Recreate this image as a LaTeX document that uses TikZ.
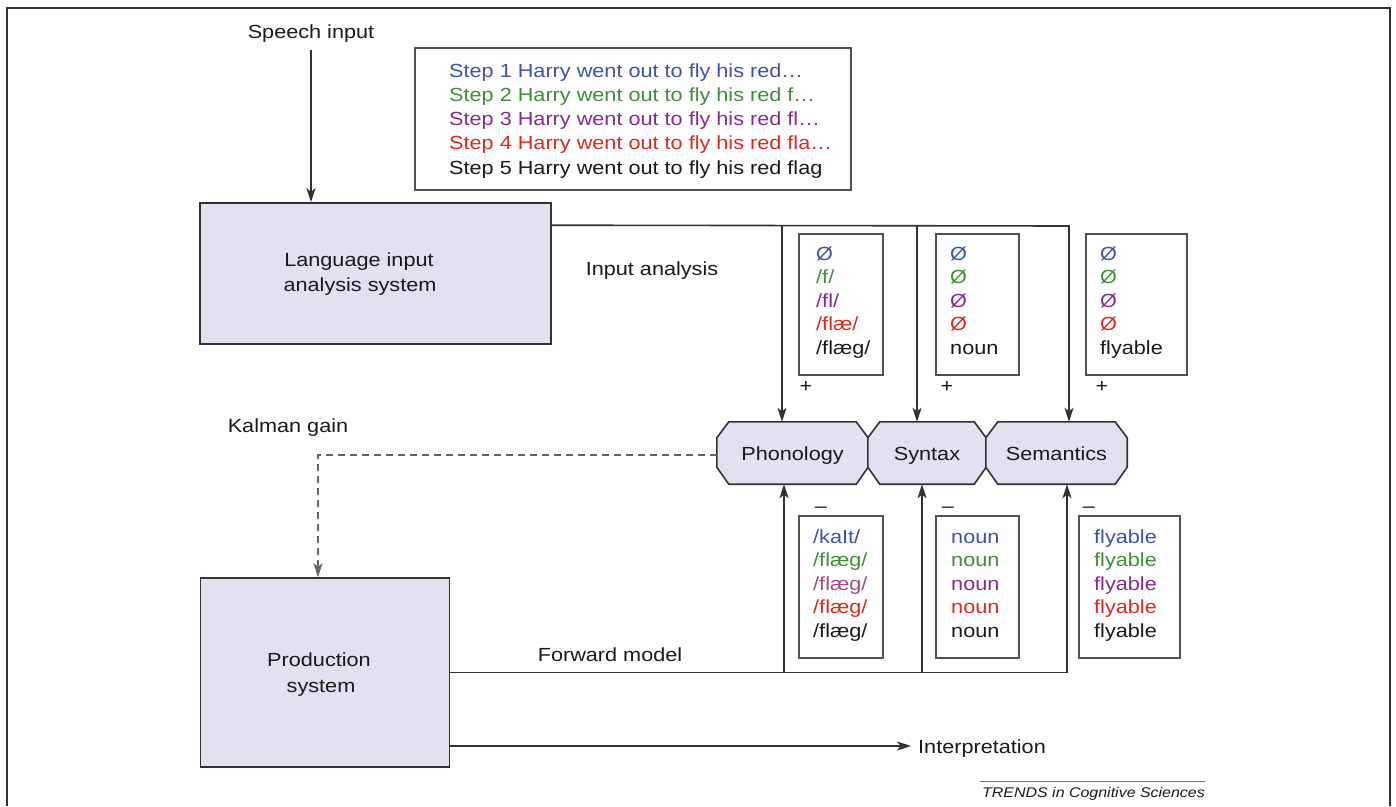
\documentclass[tikz,border=0pt]{standalone}
\usepackage{fontspec}
\setmainfont{Liberation Sans}[FakeStretch=1.14]
\usetikzlibrary{arrows.meta,calc,backgrounds}
\definecolor{lav}{RGB}{227,224,239}
\definecolor{cblue}{RGB}{63,81,168}
\definecolor{cgreen}{RGB}{62,142,54}
\definecolor{cpurple}{RGB}{134,42,147}
\definecolor{cpink}{RGB}{160,74,142}
\definecolor{cred}{RGB}{222,40,30}
\definecolor{ink}{RGB}{25,25,25}
\definecolor{edge}{RGB}{50,50,50}
\newcommand\myoct[1]{%
  \path[sysbox] ($(#1.north west)+(12,0)$) -- ($(#1.north east)+(-12,0)$)
    -- ($(#1.north east)+(0,16)$) -- ($(#1.south east)+(0,-17)$)
    -- ($(#1.south east)+(-12,0)$) -- ($(#1.south west)+(12,0)$)
    -- ($(#1.south west)+(0,-17)$) -- ($(#1.north west)+(0,16)$) -- cycle;}
% #1 prefix, #2 x, #3 first baseline, #4 step, #5..#9 texts
\newcommand\fivelines[9]{%
  \node[lbl,text=cblue]   (#1a) at ({#2},{#3}) {#5};
  \node[lbl,text=cgreen]  (#1b) at ({#2},{#3+#4}) {#6};
  \node[lbl,text=\thirdcol] (#1c) at ({#2},{#3+2*#4}) {#7};
  \node[lbl,text=cred]    (#1d) at ({#2},{#3+3*#4}) {#8};
  \node[lbl,text=ink]     (#1e) at ({#2},{#3+4*#4}) {#9};}
\newcommand\thirdcol{cpurple}
\begin{document}
\begin{tikzpicture}[x=1pt,y=-1pt,
  every node/.style={font=\fontsize{19}{23}\selectfont, text=ink, inner sep=0pt},
  conn/.style={draw=edge, line width=1.6pt},
  arr/.style={conn, -{Stealth[length=14pt,width=9pt,inset=3.5pt]}},
  sysbox/.style={draw=edge, line width=1.6pt, fill=lav},
  listbox/.style={draw=edge!85, line width=1.6pt},
  lbl/.style={anchor=base west},
  ctr/.style={anchor=base},
  octtext/.style={text height=15pt, text depth=0pt, minimum height=62pt},
]
\useasboundingbox (0,0) rectangle (1396,806);
\draw[edge, line width=1.8pt] (7,806) -- (7,8) -- (1390,8) -- (1390,806);

% main system boxes
\node[sysbox, minimum width=351pt, minimum height=141pt] (lang) at (375.5,273.5) {};
\node[ctr] (lang1) at (359,266) {Language input};
\node[ctr] (lang2) at (360,291) {analysis system};
\node[sysbox, minimum width=249pt, minimum height=189pt] (prod) at (325,672.5) {};
\node[ctr] (prod1) at (319,666) {Production};
\node[ctr] (prod2) at (321,692) {system};

% speech input
\node[ctr] (speech) at (311,38.5) {Speech input};
\draw[arr, shorten <=7pt] (speech.south) -- (speech.south |- lang.north);

% step box
\node[listbox, minimum width=436pt, minimum height=142pt] (steps) at (633,119) {};
\node[lbl,text=cblue]   (s1) at (449,77)  {Step 1 Harry went out to fly his red…};
\node[lbl,text=cgreen]  (s2) at (449,101) {Step 2 Harry went out to fly his red f…};
\node[lbl,text=cpurple] (s3) at (449,125) {Step 3 Harry went out to fly his red fl…};
\node[lbl,text=cred]    (s4) at (449,149) {Step 4 Harry went out to fly his red fla…};
\node[lbl,text=ink]     (s5) at (449,174) {Step 5 Harry went out to fly his red flag};

% octagons
\node[octtext, minimum width=151pt] (phon) at (792.5,453) {Phonology};
\node[octtext, minimum width=118pt] (syn) at (927,453) {Syntax};
\node[octtext, minimum width=141pt] (sem) at (1056.5,453) {Semantics};
\begin{scope}[on background layer]
  \myoct{phon}\myoct{syn}\myoct{sem}
\end{scope}

% labels
\node[ctr] (inan) at (652,275) {Input analysis};
\node[ctr] (kal) at (288,432) {Kalman gain};
\node[ctr] (fwd) at (610,661) {Forward model};

% upper list boxes
\node[listbox, minimum width=84pt, minimum height=141pt] (u1) at (841,304.5) {};
\node[listbox, minimum width=83pt, minimum height=141pt] (u2) at (977.5,304.5) {};
\node[listbox, minimum width=101pt, minimum height=141pt] (u3) at (1136.5,304.5) {};
\fivelines{ua}{816}{260}{23.5}{Ø}{/f/}{/fl/}{/flæ/}{/flæg/}
\fivelines{ub}{950}{260}{23.5}{Ø}{Ø}{Ø}{Ø}{noun}
\fivelines{uc}{1100}{260}{23.5}{Ø}{Ø}{Ø}{Ø}{flyable}
\node (plus1) at (806,387) {+};
\node (plus2) at (947,387) {+};
\node (plus3) at (1102,387) {+};

% lower list boxes
\node[listbox, minimum width=84pt, minimum height=142pt] (l1) at (841,587) {};
\node[listbox, minimum width=83pt, minimum height=142pt] (l2) at (977.5,587) {};
\node[listbox, minimum width=101pt, minimum height=142pt] (l3) at (1129.5,587) {};
\renewcommand\thirdcol{cpink}
\fivelines{la}{813}{543}{23.5}{/kaIt/}{/flæg/}{/flæg/}{/flæg/}{/flæg/}
\renewcommand\thirdcol{cpurple}
\fivelines{lb}{951}{543}{23.5}{noun}{noun}{noun}{noun}{noun}
\fivelines{lc}{1094}{543}{23.5}{flyable}{flyable}{flyable}{flyable}{flyable}
\node (minus1) at (821,510) {–};
\node (minus2) at (948,510) {–};
\node (minus3) at (1089,510) {–};

% input analysis connectors
\coordinate (tstart) at ($(lang.north east)+(0,23)$);
\coordinate (t1) at (782,226);
\coordinate (t2) at (917,226);
\coordinate (t3) at (1069,226);
\draw[arr] (tstart) -- (t3) -- (t3 |- sem.north);
\draw[arr] (t1) -- (t1 |- phon.north);
\draw[arr] (t2) -- (t2 |- syn.north);

% forward model connectors
\coordinate (b1) at (784,672.5);
\coordinate (b2) at (922,672.5);
\coordinate (b3) at (1067,672.5);
\draw[arr] (prod.east) -- (b3) -- (b3 |- sem.south);
\draw[arr] (b1) -- (b1 |- phon.south);
\draw[arr] (b2) -- (b2 |- syn.south);

% Kalman gain
\coordinate (kg) at (318,455);
\draw[arr, draw=edge!75, dash pattern=on 7pt off 5pt] (phon.west |- kg) -- (kg) -- (kg |- prod.north);

% interpretation
\node[anchor=base west] (interp) at (918,753) {Interpretation};
\draw[arr, shorten >=7pt] (prod.east |- 0,746) -- (interp.west |- 0,746);

% credit
\node[anchor=base west, font=\fontsize{14}{16}\selectfont\itshape] (trends) at (982,797) {TRENDS in Cognitive Sciences};
\draw[edge!70, line width=1pt] ($(trends.north west)+(-2,-5)$) -- ($(trends.north east)+(0,-5)$);
\end{tikzpicture}
\end{document}
